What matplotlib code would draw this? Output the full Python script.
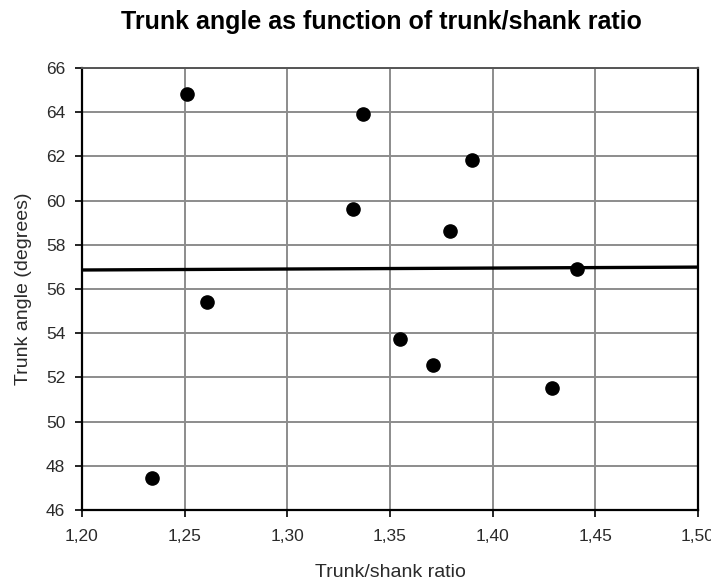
import matplotlib
matplotlib.use("Agg")
import matplotlib.pyplot as plt
import numpy as np

# data
ratio = [1.251, 1.261, 1.332, 1.337, 1.390, 1.379, 1.441, 1.355, 1.371, 1.429, 1.234]
angle = [64.82, 55.41, 59.62, 63.92, 61.84, 58.62, 56.90, 53.74, 52.56, 51.52, 47.45]
trend_x = [1.20, 1.50]
trend_y = [56.86, 56.99]
xticks = [1.20, 1.25, 1.30, 1.35, 1.40, 1.45, 1.50]
xtick_labels = ["1,20", "1,25", "1,30", "1,35", "1,40", "1,45", "1,50"]
yticks = [46, 48, 50, 52, 54, 56, 58, 60, 62, 64, 66]

plt.rcParams['font.family'] = ['Liberation Sans', 'DejaVu Sans']
txt = '#2a2a2a'

fig = plt.figure(figsize=(7.11, 5.81), dpi=100)
ax = fig.add_axes([0.1153, 0.1222, 0.8664, 0.7608])

ax.grid(True, color='#8c8c8c', linewidth=1.4, zorder=0)
ax.set_axisbelow(True)
ax.plot(trend_x, trend_y, color='black', linewidth=2.4, zorder=2)
ax.plot(ratio, angle, linestyle='none', marker='o', markersize=9.5, color='black', zorder=3)

ax.set_xlim(1.20, 1.50)
ax.set_ylim(46, 66)
ax.set_xticks(xticks)
ax.set_xticklabels(xtick_labels)
ax.set_yticks(yticks)
ax.tick_params(direction='out', length=5, width=1.2, colors='black', labelcolor=txt, labelsize=12.5)
ax.tick_params(axis='x', pad=9)
ax.tick_params(axis='y', pad=7)

for s in ['left', 'bottom', 'right']:
	ax.spines[s].set_color('black')
	ax.spines[s].set_linewidth(1.6)
ax.spines['top'].set_color('#555555')
ax.spines['top'].set_linewidth(1.4)

ax.set_xlabel("Trunk/shank ratio", fontsize=14, color=txt, labelpad=14)
ax.set_ylabel("Trunk angle (degrees)", fontsize=14, color=txt, labelpad=10)
fig.text(0.537, 0.962, "Trunk angle as function of trunk/shank ratio", fontsize=18,
	fontweight='bold', color='black', ha='center', va='center')

fig.savefig("out.png", dpi=100)
